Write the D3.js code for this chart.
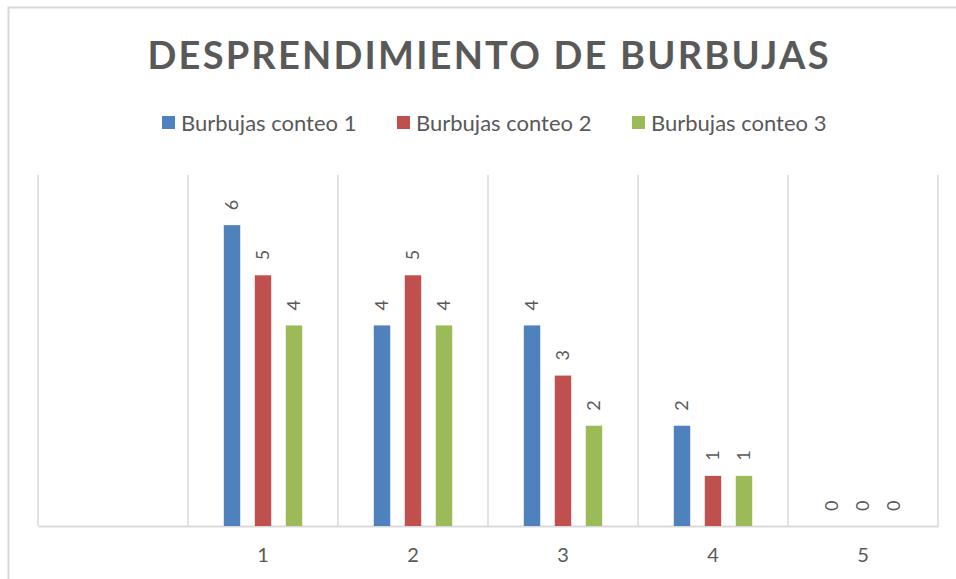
<!DOCTYPE html>
<html>
<head>
<meta charset="utf-8">
<script src="https://cdn.jsdelivr.net/npm/d3@7"></script>
<style>
  body { margin: 0; background: #fff; }
  text { font-family: Lato, "Open Sans", sans-serif; }
</style>
</head>
<body>
<div id="chart"></div>
<script>
// categories: the first slot has no label and no bars
var categories = ["", "1", "2", "3", "4", "5"];
var seriesNames = ["Burbujas conteo 1", "Burbujas conteo 2", "Burbujas conteo 3"];
var conteo1 = [null, 6, 4, 4, 2, 0];
var conteo2 = [null, 5, 5, 3, 1, 0];
var conteo3 = [null, 4, 4, 2, 1, 0];
var colors = ["#4F81BD", "#C0504D", "#9BBB59"];

var width = 956,
    height = 579;

var seriesValues = [conteo1, conteo2, conteo3];

var svg = d3.select("#chart").append("svg")
    .attr("width", width)
    .attr("height", height);

// chart border
svg.append("rect")
    .attr("x", 8.5)
    .attr("y", 7.5)
    .attr("width", 960)
    .attr("height", 600)
    .attr("fill", "none")
    .attr("stroke", "#D9D9D9")
    .attr("stroke-width", 2);

// title
svg.append("text")
    .attr("x", 488)
    .attr("y", 69)
    .attr("text-anchor", "middle")
    .attr("font-size", "38px")
    .attr("font-weight", "bold")
    .attr("fill", "#595959")
    .attr("textLength", 681)
    .attr("lengthAdjust", "spacing")
    .text("DESPRENDIMIENTO DE BURBUJAS");

// legend
var legendX = [162, 397, 632];
var legend = svg.selectAll(".legend")
    .data(seriesNames)
    .enter()
    .append("g")
    .attr("class", "legend")
    .attr("transform", function (d, i) {
        return "translate(" + legendX[i] + ",123)";
    });
legend.append("rect")
    .attr("x", 0)
    .attr("y", -7)
    .attr("width", 13)
    .attr("height", 13)
    .attr("fill", function (d, i) { return colors[i]; });
legend.append("text")
    .attr("x", 19)
    .attr("y", 7.5)
    .attr("font-size", "22px")
    .attr("fill", "#595959")
    .text(function (d) { return d; });

// scales
var x = d3.scaleBand()
    .domain(categories)
    .range([38, 938])
    .paddingInner(0)
    .paddingOuter(0);

var xInner = d3.scaleBand()
    .domain(d3.range(seriesNames.length))
    .range([0, x.bandwidth()])
    .paddingInner(0.47)
    .paddingOuter(1.155);

var y = d3.scaleLinear()
    .domain([0, 7])
    .range([526, 175]);

// vertical gridlines at category boundaries
var bounds = categories.map(function (c) { return x(c); }).concat([x.range()[1]]);
svg.selectAll(".vgrid")
    .data(bounds)
    .enter()
    .append("line")
    .attr("class", "vgrid")
    .attr("x1", function (d) { return d; })
    .attr("x2", function (d) { return d; })
    .attr("y1", y(7))
    .attr("y2", y(0))
    .attr("stroke", "#D9D9D9")
    .attr("stroke-width", 1.5);

// category axis
var xAxis = svg.append("g")
    .attr("transform", "translate(0," + y(0) + ")")
    .call(d3.axisBottom(x).tickSize(0).tickPadding(22));
xAxis.select(".domain")
    .attr("stroke", "#D9D9D9")
    .attr("stroke-width", 2);
xAxis.selectAll("text")
    .attr("font-size", "20px")
    .attr("font-family", "Lato, 'Open Sans', sans-serif")
    .attr("fill", "#595959");

// bars
var groups = svg.selectAll(".cat")
    .data(categories)
    .enter()
    .append("g")
    .attr("class", "cat")
    .attr("transform", function (d) { return "translate(" + x(d) + ",0)"; });

var cells = groups.selectAll(".bar")
    .data(function (d, ci) {
        return seriesValues.map(function (vals, si) {
            return { s: si, v: vals[ci] };
        }).filter(function (e) { return e.v !== null; });
    })
    .enter();

cells.append("rect")
    .attr("class", "bar")
    .attr("x", function (d) { return xInner(d.s); })
    .attr("width", xInner.bandwidth())
    .attr("y", function (d) { return y(d.v); })
    .attr("height", function (d) { return y(0) - y(d.v); })
    .attr("fill", function (d) { return colors[d.s]; });

cells.append("text")
    .attr("transform", function (d) {
        return "translate(" + (xInner(d.s) + xInner.bandwidth() / 2) + "," + (y(d.v) - 15) + ")rotate(-90)";
    })
    .attr("dy", "0.35em")
    .attr("font-size", "18px")
    .attr("fill", "#595959")
    .text(function (d) { return d.v; });
</script>
</body>
</html>
